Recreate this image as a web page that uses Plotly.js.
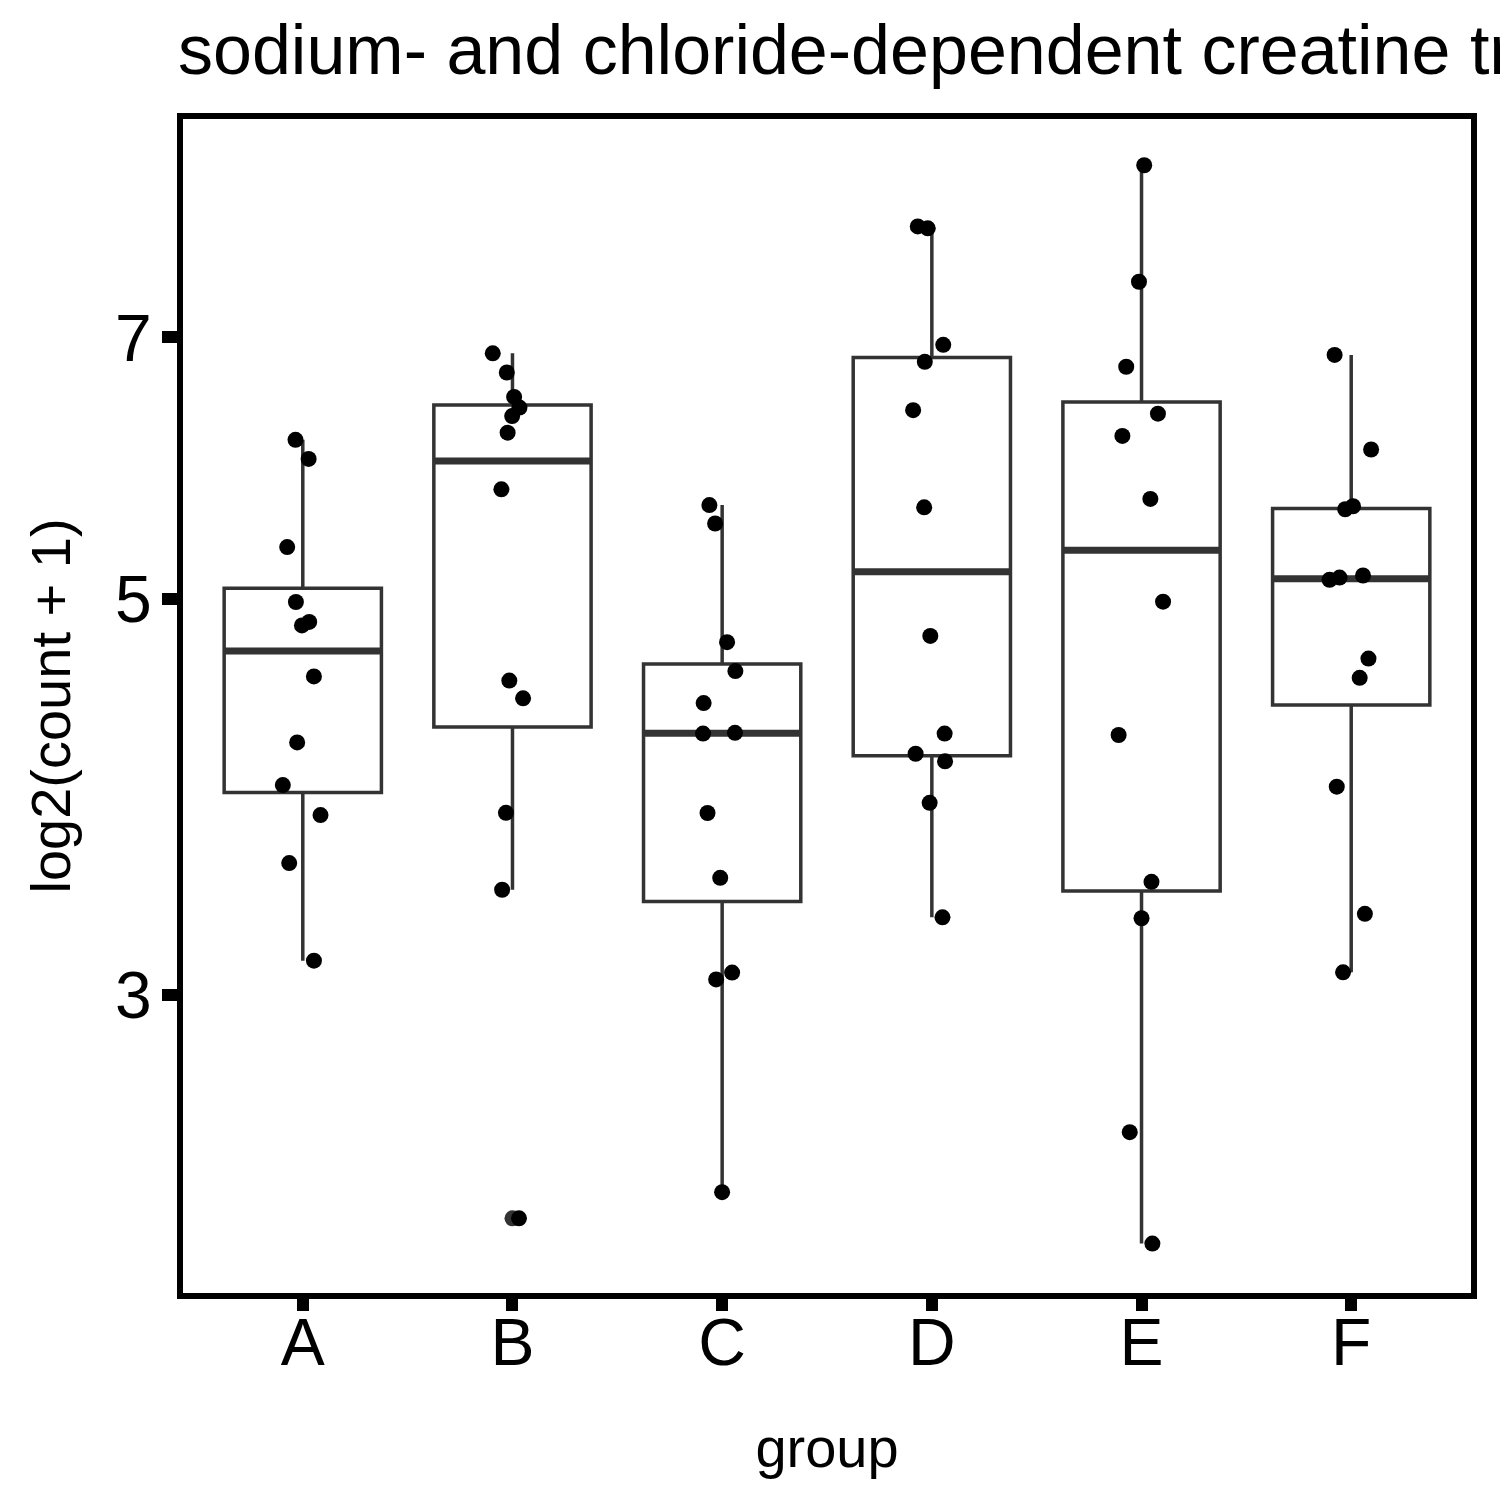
<!DOCTYPE html>
<html>
<head>
<meta charset="utf-8">
<script src="https://cdn.plot.ly/plotly-3.0.1.min.js"></script>
<style>html,body{margin:0;padding:0;background:#fff;}</style>
</head>
<body>
<div id="chart" style="width:1500px;height:1500px;"></div>
<script>
// ---- data (log2(count + 1) values) ----
const groups = ['A', 'B', 'C', 'D', 'E', 'F'];
const valuesA = [6.135, 5.986, 5.343, 4.978, 4.852, 4.830, 4.523, 4.154, 3.932, 3.783, 3.556, 3.136];
const valuesB = [6.858, 6.691, 6.484, 6.395, 6.326, 6.192, 5.756, 4.499, 4.397, 3.794, 3.436, 2.250];
const valuesC = [5.640, 5.508, 4.727, 4.554, 4.370, 4.202, 4.206, 3.793, 3.489, 3.061, 3.088, 2.327];
const valuesD = [8.057, 8.077, 6.934, 6.784, 6.374, 5.624, 4.765, 4.202, 4.094, 4.054, 3.843, 3.316];
const valuesE = [8.739, 7.521, 6.741, 6.345, 6.166, 5.685, 4.980, 4.194, 3.471, 3.312, 2.514, 2.178];
const valuesF = [6.844, 6.059, 5.610, 5.632, 5.151, 5.137, 5.123, 4.628, 4.515, 3.924, 3.331, 3.089];
const yTickVals = [3, 5, 7];
const yTickText = ['3', '5', '7'];
const titleText = 'sodium- and chloride-dependent creatine transporter 1';
const xTitle = 'group';
const yTitle = 'log2(count + 1)';

const allValues = [valuesA, valuesB, valuesC, valuesD, valuesE, valuesF];
const positions = groups.map((g, i) => i + 1);

// ---- box statistics (type-7 quantiles on the log10 scale, like ggplot + scale_y_log10) ----
function q7(sorted, p) {
  const h = (sorted.length - 1) * p;
  const lo = Math.floor(h), hi = Math.ceil(h);
  return sorted[lo] + (h - lo) * (sorted[hi] - sorted[lo]);
}
function boxStats(vals) {
  const sorted = vals.slice().sort((a, b) => a - b);
  const l = sorted.map(Math.log10);
  const q1 = q7(l, 0.25), med = q7(l, 0.5), q3 = q7(l, 0.75);
  const iqr = q3 - q1;
  const inside = sorted.filter((v, i) => l[i] >= q1 - 1.5 * iqr && l[i] <= q3 + 1.5 * iqr);
  return {
    q1: Math.pow(10, q1), med: Math.pow(10, med), q3: Math.pow(10, q3),
    lf: inside[0], uf: inside[inside.length - 1]
  };
}
const st = allValues.map(boxStats);

const BOXW = 0.75;
const GREY = '#333333';

const boxTrace = {
  type: 'box',
  x: positions,
  y: allValues,
  q1: st.map(s => s.q1),
  median: st.map(s => s.med),
  q3: st.map(s => s.q3),
  lowerfence: st.map(s => s.lf),
  upperfence: st.map(s => s.uf),
  width: BOXW,
  whiskerwidth: 0,
  boxpoints: 'outliers',
  jitter: 0,
  pointpos: 0,
  fillcolor: 'rgba(0,0,0,0)',
  line: {color: GREY, width: 3.5},
  marker: {color: GREY, size: 16, line: {width: 0}},
  hoverinfo: 'skip',
  showlegend: false
};

const flatX = [], flatY = [];
allValues.forEach((vals, i) => vals.forEach(v => { flatX.push(positions[i]); flatY.push(v); }));

const pointsTrace = {
  type: 'box',
  x: flatX,
  y: flatY,
  width: BOXW,
  whiskerwidth: 0,
  boxpoints: 'all',
  jitter: 0.3,
  pointpos: 0,
  fillcolor: 'rgba(0,0,0,0)',
  line: {color: 'rgba(0,0,0,0)', width: 0},
  marker: {color: '#000000', size: 16, line: {width: 0}},
  hoverinfo: 'skip',
  showlegend: false
};

// thicker median bars (ggplot fatten = 2), drawn under the traces
const medianShapes = st.map((s, i) => ({
  type: 'line', xref: 'x', yref: 'y', layer: 'below',
  x0: positions[i] - BOXW / 2, x1: positions[i] + BOXW / 2,
  y0: s.med, y1: s.med,
  line: {color: GREY, width: 7}
}));

const FONT = 'Liberation Sans, Arial, Helvetica, sans-serif';

const layout = {
  width: 1500, height: 1500,
  margin: {l: 183, r: 29, t: 119, b: 207, pad: 0},
  paper_bgcolor: '#ffffff',
  plot_bgcolor: '#ffffff',
  showlegend: false,
  boxmode: 'overlay',
  font: {family: FONT, color: '#000000'},
  title: {
    text: titleText,
    font: {family: FONT, size: 70, color: '#000000'},
    xref: 'container', x: 178 / 1500, xanchor: 'left',
    yref: 'container', y: 1 - 25 / 1500, yanchor: 'top'
  },
  xaxis: {
    type: 'linear',
    range: [0.4287, 6.5713],
    tickmode: 'array',
    tickvals: positions,
    ticktext: groups,
    ticks: 'outside', ticklen: 12, tickwidth: 12, tickcolor: '#000000',
    ticklabelstandoff: -25,
    showline: true, linewidth: 6, linecolor: '#000000', mirror: true,
    showgrid: false, zeroline: false,
    tickfont: {family: FONT, size: 66, color: '#000000'},
    title: {text: xTitle, font: {family: FONT, size: 56, color: '#000000'}, standoff: 52}
  },
  yaxis: {
    type: 'log',
    range: [0.31039, 0.96735],
    tickmode: 'array',
    tickvals: yTickVals,
    ticktext: yTickText,
    ticks: 'outside', ticklen: 15, tickwidth: 12, tickcolor: '#000000',
    ticklabelstandoff: -3,
    showline: true, linewidth: 6, linecolor: '#000000', mirror: true,
    showgrid: false, zeroline: false,
    tickfont: {family: FONT, size: 66, color: '#000000'},
    title: {text: yTitle, font: {family: FONT, size: 56, color: '#000000'}, standoff: 28}
  },
  shapes: medianShapes
};

Plotly.newPlot('chart', [boxTrace, pointsTrace], layout, {staticPlot: true, displayModeBar: false});
</script>
</body>
</html>
